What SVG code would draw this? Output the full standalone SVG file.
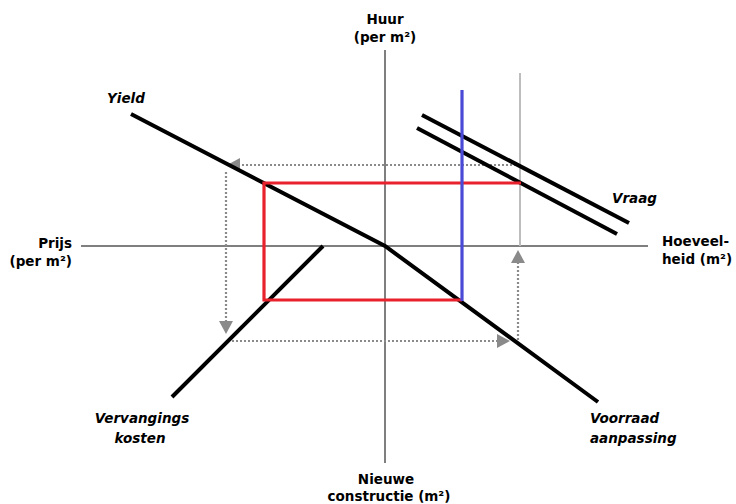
<svg xmlns="http://www.w3.org/2000/svg" width="736" height="504" viewBox="0 0 736 504">
<style>
.lbl{font-family:"DejaVu Sans","Liberation Sans",sans-serif;font-weight:bold;font-size:13.5px;fill:#000}
.it{font-style:italic}
.axis{stroke:#555;stroke-width:1.5;fill:none}
.curve{stroke:#000;stroke-width:4;fill:none;stroke-linecap:butt}
.dot{stroke:#8a8a8a;stroke-width:2.2;stroke-dasharray:2 2;fill:none}
.head{fill:#8a8a8a}
</style>
<rect width="736" height="504" fill="#fff"/>
<g id="axes">
<line class="axis" x1="385" y1="50" x2="385" y2="463"/>
<line class="axis" x1="81" y1="246" x2="648" y2="246"/>
</g>
<g id="guide">
<line x1="520" y1="73" x2="520" y2="246" stroke="#bdbdbd" stroke-width="2"/>
</g>
<g id="connectors">
<line class="dot" x1="520" y1="165" x2="240" y2="165"/>
<polygon class="head" points="227,165 240,158 240,172"/>
<line class="dot" x1="226" y1="172" x2="226" y2="322"/>
<polygon class="head" points="226,334 219,321 233,321"/>
<line class="dot" x1="228" y1="341" x2="497" y2="341"/>
<polygon class="head" points="510,341 497,334 497,348"/>
<line class="dot" x1="518" y1="340" x2="518" y2="262"/>
<polygon class="head" points="518,250 511,263 525,263"/>
</g>
<g id="curves">
<polyline class="curve" points="131,114 385,246 598,402"/>
<line class="curve" x1="172" y1="397" x2="323" y2="246"/>
<line class="curve" x1="422" y1="115" x2="629" y2="223"/>
<line class="curve" x1="417" y1="128" x2="617" y2="234"/>
</g>
<g id="box">
<polyline points="521,183 264,183 264,300 462,300" fill="none" stroke="#e8222c" stroke-width="3.2"/>
<line x1="462" y1="90" x2="462" y2="301" stroke="#4a4ad6" stroke-width="3.2"/>
</g>
<g id="label-huur">
<text class="lbl" x="385" y="24" text-anchor="middle">Huur</text>
<text class="lbl" x="385" y="42" text-anchor="middle">(per m²)</text>
</g>
<g id="label-prijs">
<text class="lbl" x="72" y="248" text-anchor="end">Prijs</text>
<text class="lbl" x="72" y="266" text-anchor="end">(per m²)</text>
</g>
<g id="label-hoeveelheid">
<text class="lbl" x="662" y="246">Hoeveel-</text>
<text class="lbl" x="662" y="264">heid (m²)</text>
</g>
<g id="label-nieuwe">
<text class="lbl" x="386" y="484" text-anchor="middle">Nieuwe</text>
<text class="lbl" x="389" y="501" text-anchor="middle">constructie (m²)</text>
</g>
<g id="label-yield">
<text class="lbl it" x="107" y="103">Yield</text>
</g>
<g id="label-vraag">
<text class="lbl it" x="612" y="203">Vraag</text>
</g>
<g id="label-vervangings">
<text class="lbl it" x="142" y="423" text-anchor="middle">Vervangings</text>
<text class="lbl it" x="140" y="443" text-anchor="middle">kosten</text>
</g>
<g id="label-voorraad">
<text class="lbl it" x="590" y="423">Voorraad</text>
<text class="lbl it" x="590" y="443">aanpassing</text>
</g>
</svg>
